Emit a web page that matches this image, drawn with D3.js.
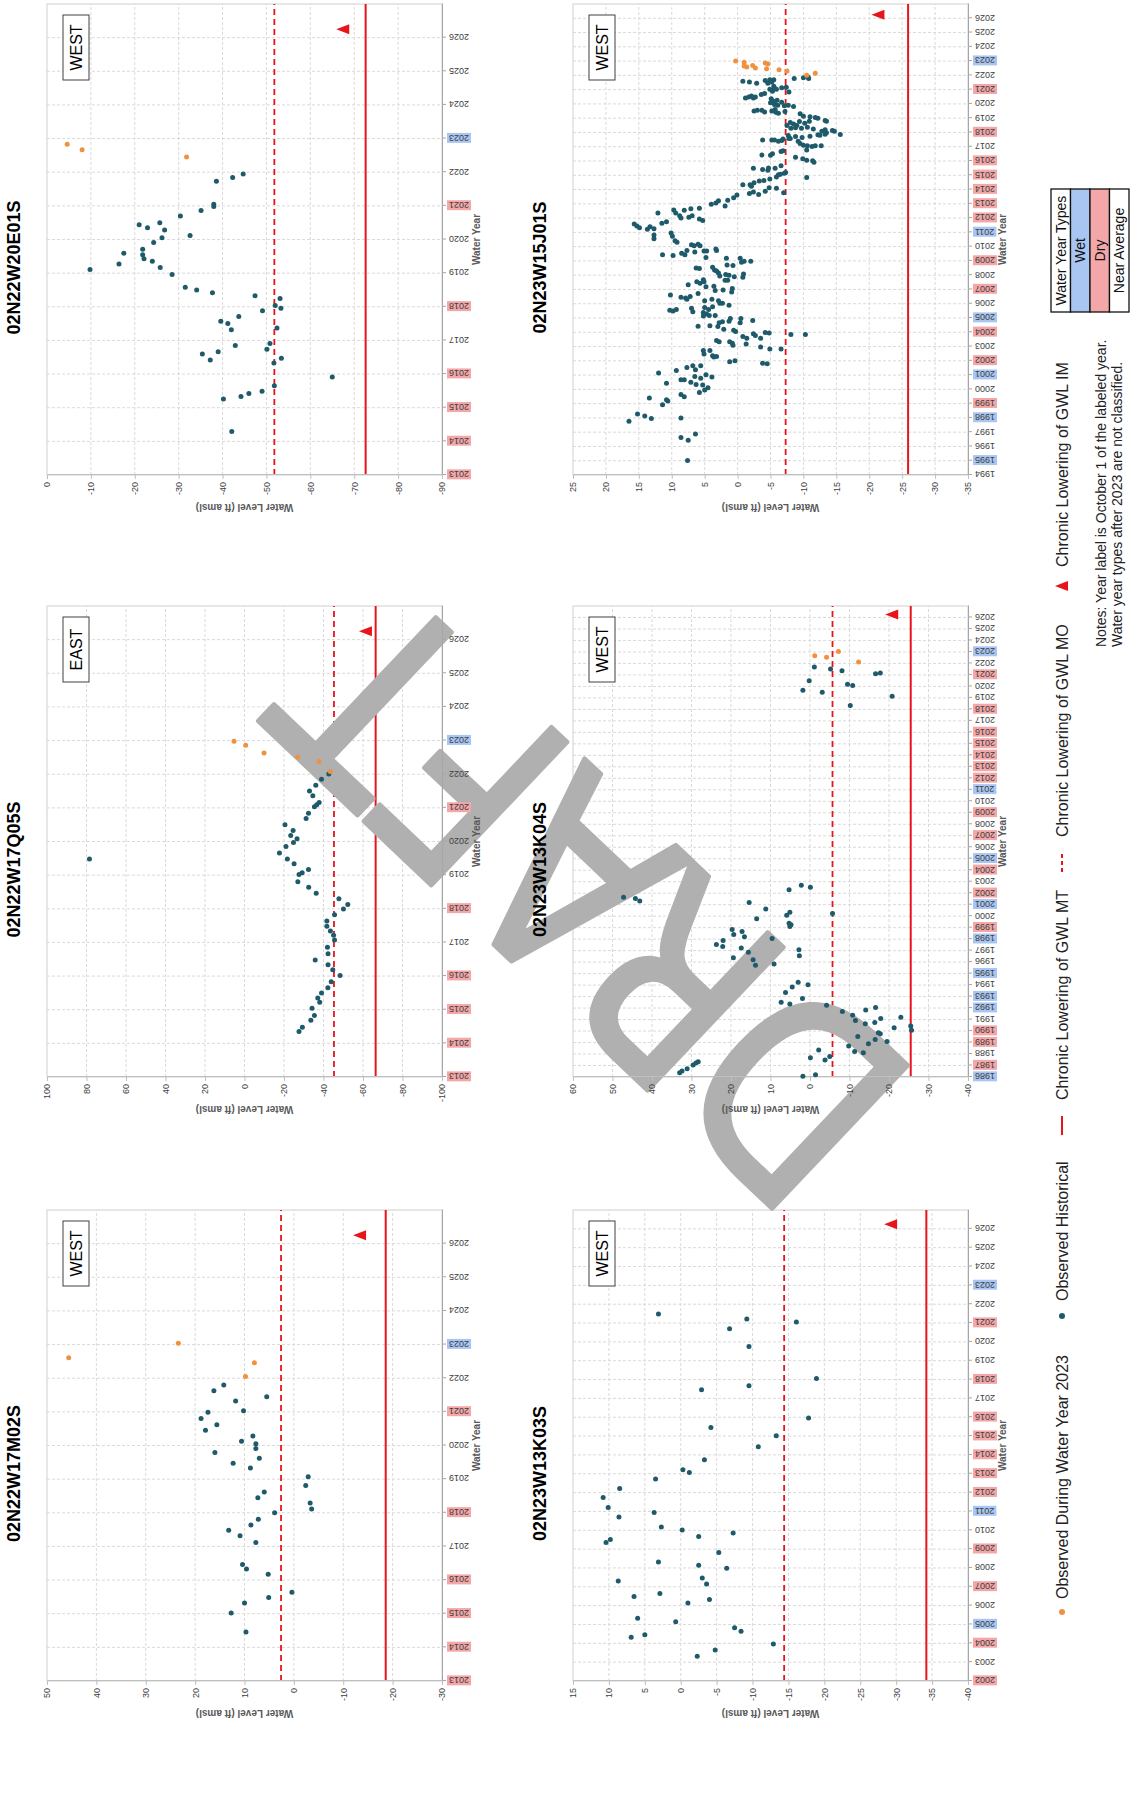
<!DOCTYPE html>
<html>
<head>
<meta charset="utf-8">
<script src="https://cdn.jsdelivr.net/npm/d3@7"></script>
<style>
  body { margin: 0; background: #fff; }
  svg { display: block; }
</style>
</head>
<body>
<div class="canvas"></div>
<script>
// water year types, used to colour the year labels
const wetYears = [1986, 1992, 1993, 1995, 1998, 2001, 2005, 2011, 2023];
const dryYears = [1987, 1989, 1990, 1999, 2002, 2004, 2007, 2009, 2012, 2013, 2014, 2015, 2016, 2018, 2021];

const wellNames = ['02N22W17M02S', '02N22W17Q05S', '02N22W20E01S', '02N23W13K03S', '02N23W13K04S', '02N23W15J01S'];
const wellRegions = ['WEST', 'EAST', 'WEST', 'WEST', 'WEST', 'WEST'];
const firstYears = [2013, 2013, 2013, 2002, 1986, 1994];
const lastYear = 2027;
// [min, max, step] of the water level axis
const levelRanges = [[-30, 50, 10], [-100, 100, 20], [-90, 0, 10], [-40, 15, 5], [-40, 60, 10], [-35, 25, 5]];
const moLevels = [2.6, -45.3, -51.8, -14.4, -5.7, -7.3];
const mtLevels = [-18.6, -66.4, -72.6, -34.2, -25.5, -25.9];
const imLevels = [-13.4, -61.5, -67.5, -29.3, -20.8, -21.4];
const imYear = 2026.25;

// observations: [year, water level ft amsl]
const hist17M02 = [[2014.46,9.7],[2015.02,12.7],[2015.32,10.0],[2015.48,5.1],[2015.64,0.4],[2016.17,5.2],[2016.33,9.6],[2016.46,10.4],[2017.12,7.7],[2017.32,10.9],[2017.48,13.2],[2017.64,8.7],[2017.81,7.2],[2018.0,3.9],[2018.11,-3.6],[2018.29,-3.3],[2018.45,7.3],[2018.62,6.0],[2018.81,-2.4],[2019.07,-2.9],[2019.33,8.8],[2019.47,12.3],[2019.62,7.0],[2019.79,16.0],[2019.91,7.7],[2020.05,7.7],[2020.13,10.6],[2020.28,8.3],[2020.45,17.9],[2020.62,15.6],[2020.80,18.8],[2020.99,17.4],[2021.03,10.2],[2021.32,11.8],[2021.45,5.5],[2021.63,16.2],[2021.80,14.2]];
const wy23_17M02 = [[2022.05,9.8],[2022.46,8.0],[2022.61,45.6],[2023.04,23.4]];

const hist17Q05 = [[2014.35,-27.6],[2014.48,-29.3],[2014.69,-33.6],[2014.83,-35.4],[2015.04,-34.2],[2015.22,-38.1],[2015.35,-37.1],[2015.50,-39.0],[2015.65,-42.2],[2015.83,-43.9],[2016.02,-48.4],[2016.19,-44.7],[2016.34,-42.3],[2016.48,-35.8],[2016.66,-42.3],[2016.86,-42.0],[2017.07,-45.6],[2017.21,-45.1],[2017.34,-43.5],[2017.48,-41.7],[2017.64,-41.7],[2017.82,-45.6],[2017.99,-50.1],[2018.13,-52.3],[2018.30,-47.8],[2018.46,-36.3],[2018.64,-32.5],[2018.80,-27.0],[2019.02,-27.6],[2019.07,-29.2],[2019.17,-32.4],[2019.34,-25.1],[2019.48,-21.7],[2019.48,78.5],[2019.66,-17.7],[2019.85,-21.0],[2019.97,-24.8],[2020.08,-26.6],[2020.18,-23.4],[2020.33,-24.6],[2020.50,-20.5],[2020.68,-31.2],[2020.84,-32.4],[2021.03,-35.4],[2021.09,-36.6],[2021.16,-37.8],[2021.36,-34.6],[2021.50,-32.9],[2021.67,-36.1],[2021.85,-39.0],[2022.01,-42.7]];
const wy23_17Q05 = [[2022.08,-43.5],[2022.38,-37.8],[2022.51,-27.0],[2022.63,-9.9],[2022.86,-0.6],[2022.98,5.3]];

const hist20E01 = [[2014.29,-42.1],[2015.26,-40.2],[2015.33,-44.2],[2015.42,-46.0],[2015.49,-49.0],[2015.65,-51.8],[2015.91,-65.0],[2016.33,-51.7],[2016.42,-37.2],[2016.47,-53.4],[2016.60,-35.4],[2016.66,-39.0],[2016.74,-50.1],[2016.85,-42.9],[2016.91,-50.8],[2017.32,-42.0],[2017.37,-52.4],[2017.50,-41.2],[2017.57,-39.6],[2017.71,-43.7],[2017.88,-49.1],[2017.96,-53.3],[2018.04,-52.0],[2018.25,-53.1],[2018.33,-47.4],[2018.42,-37.7],[2018.50,-34.1],[2018.58,-31.5],[2018.96,-28.5],[2019.11,-9.8],[2019.17,-25.8],[2019.27,-16.4],[2019.35,-24.0],[2019.43,-22.1],[2019.55,-21.8],[2019.59,-17.5],[2019.71,-21.8],[2019.91,-24.3],[2020.05,-26.2],[2020.12,-32.6],[2020.28,-26.8],[2020.35,-22.9],[2020.44,-21.0],[2020.50,-25.7],[2020.70,-30.4],[2020.86,-35.1],[2020.98,-38.0],[2021.05,-38.0],[2021.73,-38.6],[2021.84,-42.3],[2021.95,-44.7]];
const wy23_20E01 = [[2022.45,-31.8],[2022.67,-8.0],[2022.83,-4.6]];

const hist13K03 = [[2003.31,-2.3],[2003.65,-4.8],[2003.97,-12.9],[2004.32,6.9],[2004.46,5.0],[2004.64,-8.4],[2004.82,-7.5],[2005.15,0.7],[2005.33,6.0],[2006.14,-1.0],[2006.32,-4.0],[2006.48,6.5],[2006.64,2.9],[2007.15,-3.6],[2007.31,8.7],[2007.47,-3.0],[2007.99,-6.4],[2008.15,-2.5],[2008.32,3.1],[2008.82,-5.3],[2009.35,10.4],[2009.51,9.8],[2009.67,-2.5],[2009.86,-7.3],[2010.01,-0.2],[2010.18,2.7],[2010.71,8.6],[2010.94,3.7],[2011.21,10.1],[2011.74,10.8],[2012.22,8.5],[2012.72,3.5],[2013.07,-1.2],[2013.21,-0.3],[2013.74,-3.3],[2014.43,-10.8],[2015.02,-13.3],[2015.46,-4.2],[2015.96,-17.8],[2017.46,-2.9],[2017.67,-9.5],[2018.06,-18.9],[2019.75,-9.5],[2020.70,-6.8],[2021.06,-16.1],[2021.22,-9.2],[2021.48,3.1]];
const wy23_13K03 = [];

const hist13K04 = [[1986.06,1.8],[1986.20,-1.4],[1986.38,33.0],[1986.52,32.4],[1986.72,31.1],[1987.04,29.6],[1987.21,28.9],[1987.33,28.3],[1987.47,-3.8],[1987.68,-0.1],[1987.79,-5.0],[1988.11,-13.5],[1988.23,-11.3],[1988.34,-2.2],[1988.69,-9.8],[1988.89,-14.8],[1989.09,-19.5],[1989.27,-16.5],[1989.53,-12.1],[1989.76,-17.8],[1989.85,-17.3],[1990.08,-25.7],[1990.28,-21.3],[1990.43,-25.5],[1990.63,-14.0],[1990.74,-16.4],[1990.92,-11.5],[1991.09,-17.9],[1991.21,-23.0],[1991.38,-10.8],[1991.70,-8.2],[1991.84,-14.1],[1992.04,-16.6],[1992.25,-4.2],[1992.36,5.1],[1992.51,7.3],[1992.83,1.9],[1993.35,6.2],[1993.84,4.5],[1994.04,0.5],[1994.24,3.0],[1995.72,13.8],[1995.83,9.1],[1996.21,14.4],[1996.38,19.4],[1996.56,2.7],[1996.87,15.6],[1997.08,2.8],[1997.22,17.4],[1997.37,22.1],[1997.54,23.7],[1997.89,22.0],[1998.06,9.6],[1998.21,16.6],[1998.41,19.3],[1998.67,17.2],[1998.84,19.7],[1999.10,5.1],[1999.25,4.8],[1999.39,5.3],[1999.77,13.5],[2000.09,5.9],[2000.23,-5.7],[2000.35,5.1],[2000.63,11.2],[2001.18,15.4],[2001.33,43.1],[2001.53,44.2],[2001.65,47.2],[2002.31,5.3],[2002.51,-0.1],[2002.69,2.2],[2018.34,-10.2],[2019.15,-20.8],[2019.49,-3.1],[2019.67,1.8],[2020.07,-10.8],[2020.19,-9.5],[2020.50,0.2],[2021.11,-16.6],[2021.17,-17.8],[2021.37,-8.1],[2021.52,-5.2],[2021.69,-1.1]];
const wy23_13K04 = [[2022.12,-12.3],[2022.53,-4.2],[2022.67,-1.2],[2023.05,-7.2]];

const hist15J01 = [
  [2021.58,-0.8],[2021.54,-1.8],[2021.44,-2.9],[2021.64,-4.2],[2021.70,-4.9],[2021.70,-5.5],[2021.54,-5.2],[2021.44,-4.6],[2021.23,-5.5],[2021.03,-4.9],[2021.09,-5.6],[2021.03,-5.9],[2020.89,-5.3],[2021.13,-6.7],[2021.17,-7.4],[2020.83,-7.8],[2021.78,-8.6],[2021.84,-10.0],[2021.88,-10.7],[2021.78,-10.8],
  [2020.66,-3.6],[2020.73,-4.1],[2020.42,-1.2],[2020.48,-1.7],[2020.56,-2.1],[2020.42,-2.4],[2020.48,-2.7],[2020.36,-5.1],[2020.22,-5.3],[2020.16,-5.6],[2020.26,-6.0],[2020.08,-5.0],[2019.95,-5.6],[2019.91,-6.1],[2020.12,-6.7],[2019.87,-7.1],[2019.91,-7.7],[2019.81,-8.5],
  [2019.51,-2.5],[2019.55,-3.0],[2019.55,-3.7],[2019.43,-4.1],[2019.51,-5.2],[2019.61,-5.7],[2019.41,-5.8],[2019.35,-6.2],[2019.47,-7.2],[2019.31,-9.5],[2019.14,-10.0],[2019.10,-11.0],[2019.04,-11.8],[2019.00,-12.2],
  [2018.78,-10.9],[2018.65,-10.2],[2018.76,-9.4],[2018.49,-9.0],[2018.59,-8.5],[2018.70,-8.0],[2018.49,-7.5],[2018.29,-8.1],[2018.33,-8.8],[2018.29,-9.7],[2018.37,-10.6],[2018.25,-11.5],[2018.84,-13.3],[2018.78,-13.5],
  [2017.78,-7.7],[2017.58,-8.0],[2017.72,-8.8],[2017.64,-9.8],[2017.74,-11.0],[2017.84,-12.2],[2018.09,-12.8],[2018.19,-13.3],[2017.98,-13.5],[2018.13,-14.4],[2018.09,-14.7],[2017.86,-15.6],[2017.80,-12.5],[2017.88,-13.3],
  [2017.48,-3.8],[2017.48,-5.2],[2017.48,-5.6],[2017.38,-6.2],[2017.44,-6.7],[2017.54,-6.9],[2017.58,-7.8],[2017.38,-9.2],[2017.23,-9.5],[2017.11,-10.0],[2017.07,-10.6],[2017.01,-11.3],[2017.07,-11.8],[2017.07,-12.7],[2016.77,-10.5],
  [2016.42,-3.7],[2016.40,-5.0],[2016.50,-5.3],[2016.66,-6.6],[2016.71,-6.9],[2016.26,-8.8],[2016.16,-9.9],[2016.06,-10.5],[2016.02,-11.4],[2015.91,-11.6],
  [2015.49,-2.4],[2015.41,-3.8],[2015.35,-4.6],[2015.51,-4.7],[2015.49,-5.7],[2015.67,-6.6],[2015.04,-6.2],[2015.08,-6.5],[2015.14,-7.1],[2015.20,-7.3],
  [2014.88,-5.9],[2014.74,-4.9],[2014.64,-4.0],[2014.60,-3.3],[2014.47,-2.5],[2014.33,-1.9],[2014.33,-0.8],[2014.23,-2.1],[2014.84,-10.5],
  [2013.72,-1.8],[2013.82,-2.4],[2013.66,-3.2],[2013.88,-4.2],[2014.13,-4.8],[2014.09,-5.9],[2013.78,-7.0],[2013.62,0.1],[2013.42,0.6],[2013.25,1.5],[2013.21,2.9],[2013.05,3.3],
  [2012.97,4.0],[2012.85,1.9],[2012.69,5.8],[2012.65,7.1],[2012.55,8.1],[2012.57,9.7],[2012.36,9.4],[2012.16,8.8],[2012.00,8.6],[2012.06,7.4],[2012.16,6.9],[2011.94,5.8],[2011.83,5.3],[2012.36,12.1],
  [2011.75,10.8],[2011.63,11.5],[2011.59,15.7],[2011.45,15.3],[2011.33,14.9],[2011.22,13.7],[2011.39,13.3],[2011.25,12.7],
  [2010.82,12.7],[2010.55,12.7],[2010.96,10.1],[2010.72,9.9],[2010.41,9.5],[2010.31,9.2],[2009.44,11.4],[2009.38,9.8],[2009.53,8.5],[2009.44,8.0],[2009.73,7.7],[2010.14,7.0],[2009.63,6.5],[2010.06,6.6],[2010.16,6.0],[2010.06,5.7],[2009.69,5.1],[2009.69,4.7],[2009.24,4.8],[2009.83,3.3],[2009.73,3.2],[2009.18,1.7],
  [2008.71,1.6],[2008.67,0.7],[2009.18,-0.4],[2008.91,-0.6],[2008.97,-1.0],[2008.97,-2.0],[2008.50,6.3],[2008.46,5.8],[2007.54,6.2],[2007.44,5.7],[2007.68,5.2],[2007.54,5.1],[2007.33,7.5],[2006.72,6.0],[2007.19,4.8],
  [2008.56,3.8],[2008.36,3.5],[2008.15,2.9],[2008.30,3.2],[2007.95,2.7],[2008.05,1.8],[2007.99,1.3],[2007.89,0.5],[2008.09,-0.9],[2007.85,-0.8],[2007.64,1.5],[2007.64,1.9],[2007.23,3.6],[2006.92,3.4],[2006.96,2.2],[2007.07,0.8],[2006.82,0.9],
  [2006.61,10.2],[2006.45,8.6],[2006.41,7.9],[2006.31,7.7],[2006.51,7.2],[2005.55,10.3],[2005.49,9.8],[2005.59,9.3],[2005.69,7.0],[2005.44,6.8],[2006.20,5.0],[2005.73,5.0],[2005.59,4.4],[2005.28,4.7],[2005.38,5.2],[2005.14,5.2],[2005.18,4.3],[2006.31,3.9],[2005.79,3.8],[2005.18,3.4],[2006.20,2.9],[2006.04,2.7],[2006.04,2.3],[2005.90,1.3],
  [2004.42,6.0],[2004.46,4.2],[2004.40,3.0],[2004.67,2.8],[2004.73,2.3],[2004.21,2.1],[2004.77,1.3],[2004.97,1.1],[2004.15,0.6],[2004.05,0.3],[2004.67,-0.4],[2004.97,-0.5],[2004.83,-2.3],
  [2003.70,-0.8],[2003.58,-1.4],[2003.17,-1.3],[2003.89,-2.4],[2003.78,-2.7],[2003.58,-3.5],[2003.99,-4.2],[2003.95,-4.8],[2002.96,-3.5],[2002.82,-4.9],[2002.82,-6.6],[2003.85,-8.1],[2003.85,-10.3],[2003.43,3.2],[2003.33,2.8],[2003.33,1.2],[2003.23,0.8],[2003.09,0.7],
  [2002.72,5.2],[2002.47,5.1],[2002.72,4.2],[2002.35,3.8],[2002.27,3.6],[2002.31,3.2],[2001.94,1.2],[2002.00,0.4],[2001.83,-3.8],[2001.79,-4.5],
  [2001.14,12.0],[2001.32,9.3],[2001.53,7.7],[2001.65,6.8],[2001.38,6.4],[2001.65,5.6],[2000.42,10.8],[2000.67,8.6],[2000.67,8.1],[2000.50,7.1],[2000.91,6.5],[2000.34,6.3],[2000.77,5.6],[2000.30,5.3],[2001.02,4.8],[2000.87,3.9],[1999.95,5.0],[2000.11,4.5],[1999.78,5.8],
  [1999.39,13.4],[1999.27,10.8],[1999.19,10.6],[1998.92,11.4],[1999.64,8.6],[1999.48,8.1],[1998.27,15.2],[1998.14,14.1],[1997.96,13.1],[1998.00,8.6],
  [1997.77,16.5],[1996.63,8.6],[1996.44,7.5],[1996.88,6.4],[1995.01,7.6]
];
const wy23_15J01 = [[2023.0,0.3],[2022.92,-1.0],[2022.65,-1.0],[2022.59,-1.4],[2022.69,-2.3],[2022.51,-2.7],[2022.86,-4.2],[2022.80,-4.6],[2022.47,-4.4],[2022.39,-6.3],[2022.31,-7.5],[2022.00,-10.5],[2022.15,-11.8]];

const histSeries = [hist17M02, hist17Q05, hist20E01, hist13K03, hist13K04, hist15J01];
const wy23Series = [wy23_17M02, wy23_17Q05, wy23_20E01, wy23_13K03, wy23_13K04, wy23_15J01];

const wells = wellNames.map((name, i) => ({
  name,
  region: wellRegions[i],
  x0: firstYears[i],
  range: levelRanges[i],
  mo: moLevels[i],
  mt: mtLevels[i],
  im: imLevels[i],
  hist: histSeries[i],
  wy23: wy23Series[i],
}));

// ---- layout (drawn on a landscape sheet, then turned onto the portrait page)
const dims = { width: 1130, height: 1797 };
const sheetSize = { width: 1797, height: 1130 };
const plot = { width: 471, height: 395 };
const colX = [116, 720, 1322];
const rowY = [47, 573];

const colors = {
  hist: '#1f5a6a',
  wy23: '#f0913f',
  red: '#e8141c',
  grid: '#dadada',
  axis: '#595959',
  wet: '#a9c6f2',
  dry: '#f4a7a8',
};
const fonts = {
  narrow: '"Liberation Sans Narrow", "Arial Narrow", "Liberation Sans", Arial, sans-serif',
  sans: '"Liberation Sans", Arial, sans-serif',
};

const svg = d3
  .select('.canvas')
  .append('svg')
  .attr('width', dims.width)
  .attr('height', dims.height);

svg.append('rect').attr('width', dims.width).attr('height', dims.height).attr('fill', '#fff');

const sheet = svg
  .append('g')
  .attr('transform', `translate(0, ${sheetSize.width}) rotate(-90)`);

const back = sheet.append('g');
const mark = sheet.append('g');
const front = sheet.append('g');

const yearType = (yr) => (wetYears.includes(yr) ? 'wet' : dryYears.includes(yr) ? 'dry' : null);

const triangle = (cx, cy) => `M${cx},${cy - 7}L${cx + 5},${cy + 6}L${cx - 5},${cy + 6}Z`;

wells.forEach((w, i) => {
  const left = colX[i % 3];
  const top = rowY[Math.floor(i / 3)];
  const right = left + plot.width;
  const bottom = top + plot.height;

  const x = d3.scaleLinear().domain([w.x0, lastYear]).range([left, right]);
  const y = d3.scaleLinear().domain([w.range[0], w.range[1]]).range([bottom, top]);
  const years = d3.range(w.x0, lastYear);
  const levels = d3.range(w.range[0], w.range[1] + 1e-6, w.range[2]);

  const g = back.append('g');

  // dashed grid
  g.append('g')
    .selectAll('line')
    .data(years.slice(1))
    .join('line')
    .attr('x1', (d) => x(d))
    .attr('x2', (d) => x(d))
    .attr('y1', top)
    .attr('y2', bottom)
    .attr('stroke', colors.grid)
    .attr('stroke-dasharray', '3,2');

  g.append('g')
    .selectAll('line')
    .data(levels.slice(1, -1))
    .join('line')
    .attr('x1', left)
    .attr('x2', right)
    .attr('y1', (d) => y(d))
    .attr('y2', (d) => y(d))
    .attr('stroke', colors.grid)
    .attr('stroke-dasharray', '3,2');

  g.append('rect')
    .attr('x', left)
    .attr('y', top)
    .attr('width', plot.width)
    .attr('height', plot.height)
    .attr('fill', 'none')
    .attr('stroke', '#cfcfcf');

  // MO (dashed) and MT (solid)
  g.append('line')
    .attr('x1', left)
    .attr('x2', right)
    .attr('y1', y(w.mo))
    .attr('y2', y(w.mo))
    .attr('stroke', colors.red)
    .attr('stroke-width', 1.8)
    .attr('stroke-dasharray', '6,4');

  g.append('line')
    .attr('x1', left)
    .attr('x2', right)
    .attr('y1', y(w.mt))
    .attr('y2', y(w.mt))
    .attr('stroke', colors.red)
    .attr('stroke-width', 2);

  const f = front.append('g');

  // x axis with water year labels
  const xAxis = f
    .append('g')
    .attr('transform', `translate(0, ${bottom})`)
    .call(d3.axisBottom(x).tickValues(years).tickSize(4).tickSizeOuter(0).tickFormat((d) => d));
  xAxis.select('.domain').attr('stroke', '#a6a6a6');
  xAxis.selectAll('.tick line').attr('stroke', '#a6a6a6');
  xAxis
    .selectAll('.tick text')
    .attr('transform', 'rotate(-90)')
    .attr('x', -7)
    .attr('y', 0)
    .attr('dy', '0.35em')
    .attr('text-anchor', 'end')
    .attr('fill', '#404040')
    .style('font', `9px ${fonts.sans}`);
  xAxis.selectAll('.tick').each(function (d) {
    const t = yearType(d);
    if (!t) return;
    const bb = d3.select(this).select('text').node().getBBox();
    d3.select(this)
      .insert('rect', 'text')
      .attr('transform', 'rotate(-90)')
      .attr('x', bb.x - 2)
      .attr('y', bb.y)
      .attr('width', bb.width + 4)
      .attr('height', bb.height)
      .attr('fill', colors[t]);
  });

  // y axis
  const yAxis = f
    .append('g')
    .attr('transform', `translate(${left}, 0)`)
    .call(d3.axisLeft(y).tickValues(levels).tickSize(4).tickSizeOuter(0).tickFormat((d) => d));
  yAxis.select('.domain').attr('stroke', '#bfbfbf');
  yAxis.selectAll('.tick line').attr('stroke', '#bfbfbf');
  yAxis.selectAll('.tick text').attr('fill', '#404040').style('font', `9px ${fonts.sans}`);

  // axis titles
  f.append('text')
    .attr('x', (left + right) / 2)
    .attr('y', bottom + 38)
    .attr('text-anchor', 'middle')
    .attr('fill', colors.axis)
    .style('font', `bold 10px ${fonts.sans}`)
    .text('Water Year');

  f.append('text')
    .attr('transform', `translate(${left - 29}, ${(top + bottom) / 2}) rotate(-90)`)
    .attr('text-anchor', 'middle')
    .attr('fill', colors.axis)
    .style('font', `bold 10px ${fonts.sans}`)
    .text('Water Level (ft amsl)');

  // title
  f.append('text')
    .attr('x', (left + right) / 2 - 28)
    .attr('y', top - 33)
    .attr('dy', '0.35em')
    .attr('text-anchor', 'middle')
    .attr('fill', '#000')
    .style('font', `bold 18px ${fonts.narrow}`)
    .text(w.name);

  // region box
  f.append('rect')
    .attr('x', right - 76)
    .attr('y', top + 16)
    .attr('width', 65)
    .attr('height', 26)
    .attr('fill', '#fff')
    .attr('stroke', '#404040');
  f.append('text')
    .attr('x', right - 43.5)
    .attr('y', top + 29)
    .attr('dy', '0.35em')
    .attr('text-anchor', 'middle')
    .style('font', `16px ${fonts.narrow}`)
    .text(w.region);

  // observations
  f.append('g')
    .selectAll('circle')
    .data(w.hist)
    .join('circle')
    .attr('cx', (d) => x(d[0]))
    .attr('cy', (d) => y(d[1]))
    .attr('r', 2.5)
    .attr('fill', colors.hist);

  f.append('g')
    .selectAll('circle')
    .data(w.wy23)
    .join('circle')
    .attr('cx', (d) => x(d[0]))
    .attr('cy', (d) => y(d[1]))
    .attr('r', 2.5)
    .attr('fill', colors.wy23);

  // interim milestone
  f.append('path').attr('d', triangle(x(imYear), y(w.im))).attr('fill', colors.red);
});

// ---- watermark
mark
  .append('text')
  .attr('transform', 'translate(897, 592) rotate(-46.5)')
  .attr('text-anchor', 'middle')
  .attr('dy', '0.36em')
  .attr('textLength', 730)
  .attr('lengthAdjust', 'spacingAndGlyphs')
  .attr('fill', '#b0b0b0')
  .attr('stroke', '#b0b0b0')
  .attr('stroke-width', 5)
  .attr('stroke-linejoin', 'round')
  .style('font', '270px "DejaVu Sans", sans-serif')
  .text('DRAFT');

// ---- legend
const legendY = 1062;
const legend = front.append('g').attr('fill', '#222').style('font', `16px ${fonts.narrow}`);

legend.append('circle').attr('cx', 185).attr('cy', legendY).attr('r', 3).attr('fill', colors.wy23);
legend.append('text').attr('x', 198).attr('y', legendY).attr('dy', '0.35em').text('Observed During Water Year 2023');

legend.append('circle').attr('cx', 481).attr('cy', legendY).attr('r', 3).attr('fill', colors.hist);
legend.append('text').attr('x', 496).attr('y', legendY).attr('dy', '0.35em').text('Observed Historical');

legend.append('line').attr('x1', 662).attr('x2', 681).attr('y1', legendY).attr('y2', legendY)
  .attr('stroke', colors.red).attr('stroke-width', 2);
legend.append('text').attr('x', 697).attr('y', legendY).attr('dy', '0.35em').text('Chronic Lowering of GWL MT');

legend.append('line').attr('x1', 925).attr('x2', 944).attr('y1', legendY).attr('y2', legendY)
  .attr('stroke', colors.red).attr('stroke-width', 2).attr('stroke-dasharray', '4,3');
legend.append('text').attr('x', 960).attr('y', legendY).attr('dy', '0.35em').text('Chronic Lowering of GWL MO');

legend.append('path').attr('d', triangle(1211, legendY)).attr('fill', colors.red);
legend.append('text').attr('x', 1230).attr('y', legendY).attr('dy', '0.35em').text('Chronic Lowering of GWL IM');

const notes = front.append('g').attr('fill', '#222').style('font', `14px ${fonts.narrow}`);
notes.append('text').attr('x', 1150).attr('y', 1101).attr('dy', '0.35em')
  .text('Notes: Year label is October 1 of the labeled year.');
notes.append('text').attr('x', 1150).attr('y', 1117).attr('dy', '0.35em')
  .text('Water year types after 2023 are not classified.');

// water year type key
const keyRows = [
  { label: 'Water Year Types', fill: '#fff' },
  { label: 'Wet', fill: colors.wet },
  { label: 'Dry', fill: colors.dry },
  { label: 'Near Average', fill: '#fff' },
];
const key = front.append('g');
const keyX = 1485, keyW = 123, keyTop = 1051, keyRowH = 19.5;
key.selectAll('rect')
  .data(keyRows)
  .join('rect')
  .attr('x', keyX)
  .attr('y', (d, i) => keyTop + i * keyRowH)
  .attr('width', keyW)
  .attr('height', keyRowH)
  .attr('fill', (d) => d.fill)
  .attr('stroke', '#111')
  .attr('stroke-width', 1.3);
key.selectAll('text')
  .data(keyRows)
  .join('text')
  .attr('x', keyX + keyW / 2)
  .attr('y', (d, i) => keyTop + (i + 0.5) * keyRowH)
  .attr('dy', '0.35em')
  .attr('text-anchor', 'middle')
  .attr('fill', '#111')
  .style('font', `14px ${fonts.narrow}`)
  .text((d) => d.label);
</script>
</body>
</html>
